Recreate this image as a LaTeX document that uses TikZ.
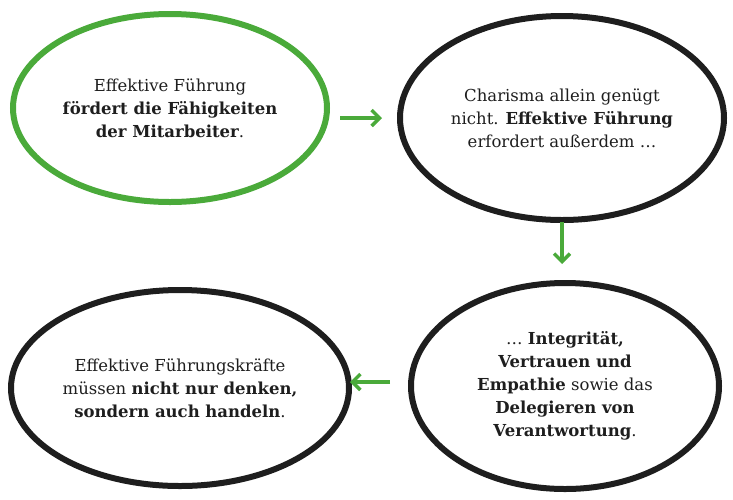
\documentclass[tikz,border=0pt]{standalone}
\usepackage{fontspec}
\setmainfont{DejaVu Serif}
\usetikzlibrary{shapes.geometric,arrows.meta}
\definecolor{gr}{HTML}{4AAA3A}
\definecolor{ink}{HTML}{1E1E1E}
\begin{document}
\begin{tikzpicture}[x=1pt,y=-1pt,
  bub/.style={ellipse,draw=ink,line width=6pt,align=center,inner sep=0pt,
    font=\fontsize{16.5}{23}\selectfont,text=ink},
  arr/.style={draw=gr,line width=3.5pt,-{Straight Barb[length=8pt,width=16pt,line width=3.5pt]}}]
\useasboundingbox (0,0) rectangle (733,499);
\node[bub,draw=gr,minimum width=314pt,minimum height=188pt] (a) at (170,108)
  {Effektive Führung\\\textbf{fördert die Fähigkeiten}\\\textbf{der Mitarbeiter}.};
\node[bub,minimum width=324pt,minimum height=204pt] (b) at (562,118)
  {Charisma allein genügt\\nicht. \textbf{Effektive Führung}\\erfordert außerdem …};
\node[bub,minimum width=308pt,minimum height=206pt] (c) at (565,386)
  {… \textbf{Integrität,}\\\textbf{Vertrauen und}\\\textbf{Empathie} sowie das\\\textbf{Delegieren von}\\\textbf{Verantwortung}.};
\node[bub,minimum width=338pt,minimum height=196pt] (d) at (180,388)
  {Effektive Führungskräfte\\müssen \textbf{nicht nur denken,}\\\textbf{sondern auch handeln}.};
\coordinate (a1) at (340,118); \coordinate (b1) at (382,118);
\coordinate (b2) at (562,222); \coordinate (c1) at (562,264);
\coordinate (c2) at (390,382); \coordinate (d1) at (350,382);
\draw[arr] (a1) -- (b1);
\draw[arr] (b2) -- (c1);
\draw[arr] (c2) -- (d1);
\end{tikzpicture}
\end{document}
